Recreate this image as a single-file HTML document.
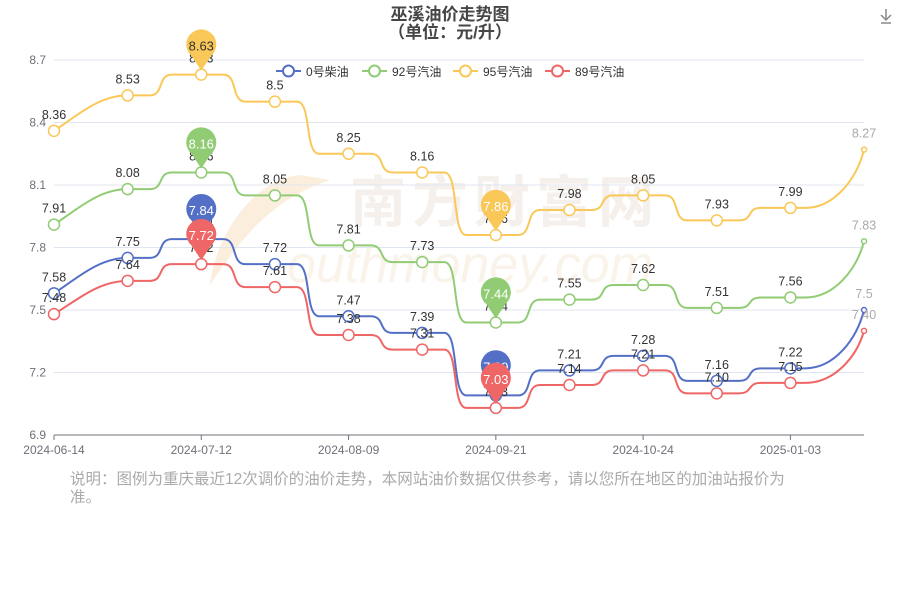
<!DOCTYPE html>
<html><head><meta charset="utf-8"><style>
html,body{margin:0;padding:0;background:#fff;width:900px;height:600px;overflow:hidden}
svg text{font-family:"Liberation Sans","Noto Sans CJK SC",sans-serif}
</style></head><body>
<svg id="c" width="900" height="600" xmlns="http://www.w3.org/2000/svg">
<text x="450" y="20" text-anchor="middle" font-size="17" font-weight="bold" fill="#464646">巫溪油价走势图</text>
<text x="450" y="38" text-anchor="middle" font-size="17" font-weight="bold" fill="#464646">（单位：元/升）</text>
<g fill="none" stroke="#888" stroke-width="1.5"><path d="M886 9v11M881 15l5 5 5-5M881 23h10"/></g>
<path d="M300 175 C250 180 215 240 210 285 C240 240 270 200 330 180 Z" fill="#fbeedd"/>
<text x="505" y="222" text-anchor="middle" font-size="56" font-weight="bold" fill="#f5f0ec" letter-spacing="6">南方财富网</text>
<text x="470" y="282" text-anchor="middle" font-size="52" font-style="italic" fill="#faf3ea">outhmoney.com</text>
<g id="g"></g>
<text x="70" y="484" font-size="15.5" fill="#aaa">说明：图例为重庆最近12次调价的油价走势，本网站油价数据仅供参考，请以您所在地区的加油站报价为</text>
<text x="70" y="502" font-size="15.5" fill="#aaa">准。</text>
</svg>
<script>
const g=document.getElementById('g');let h='';
const Y=v=>435-(v-6.9)/1.8*375;
const X=i=>54+i*73.64;
for(const v of [7.2,7.5,7.8,8.1,8.4,8.7]){h+=`<line x1="54" x2="864" y1="${Y(v)}" y2="${Y(v)}" stroke="#e0e6f1"/>`;h+=`<text x="46" y="${Y(v)+4}" text-anchor="end" font-size="12" fill="#6e7079">${v.toFixed(1)}</text>`}
h+=`<text x="46" y="439" text-anchor="end" font-size="12" fill="#6e7079">6.9</text>`;
h+=`<line x1="54" x2="864" y1="435" y2="435" stroke="#6e7079"/>`;
const dates=['2024-06-14','2024-07-12','2024-08-09','2024-09-21','2024-10-24','2025-01-03'];
dates.forEach((d,k)=>{const x=X(k*2);h+=`<line x1="${x}" x2="${x}" y1="435" y2="440" stroke="#6e7079"/><text x="${x}" y="454" text-anchor="middle" font-size="12" fill="#6e7079">${d}</text>`});
const S=[
['0号柴油','#5470c6',['7.58','7.75','7.84','7.72','7.47','7.39','7.09','7.21','7.28','7.16','7.22','7.5']],
['92号汽油','#91cc75',['7.91','8.08','8.16','8.05','7.81','7.73','7.44','7.55','7.62','7.51','7.56','7.83']],
['95号汽油','#fac858',['8.36','8.53','8.63','8.5','8.25','8.16','7.86','7.98','8.05','7.93','7.99','8.27']],
['89号汽油','#ee6666',['7.48','7.64','7.72','7.61','7.38','7.31','7.03','7.14','7.21','7.10','7.15','7.40']]];
let pins='';
S.forEach(([n,c,d])=>{
 let p=`M${X(0)} ${Y(+d[0])}`;
 for(let i=1;i<d.length;i++){const x0=X(i-1),x1=X(i),y0=Y(+d[i-1]),y1=Y(+d[i]),w=x1-x0;
  if(i==1){p+=` C${x0+w*0.3} ${y0-(y0-y1)*0.4} ${x0+w*0.6} ${y1} ${x1} ${y1}`;continue;}
  if(i==d.length-1){p+=` L${x0+w*0.2} ${y0} C${x0+w*0.6} ${y0} ${x0+w*0.9} ${y0+(y1-y0)*0.5} ${x1} ${y1}`;continue;}
  p+=` L${x0+w*0.3} ${y0} C${x0+w*0.5} ${y0} ${x0+w*0.4} ${y1} ${x0+w*0.6} ${y1} L${x1} ${y1}`;}
 h+=`<path d="${p}" fill="none" stroke="${c}" stroke-width="2"/>`;
 d.forEach((v,i)=>{const x=X(i),y=Y(+v);const last=i==d.length-1;
  h+=`<circle cx="${x}" cy="${y}" r="${last?2.5:5.5}" fill="#fff" stroke="${c}" stroke-width="1.5"/>`;
  h+=`<text x="${x}" y="${y-12}" text-anchor="middle" font-size="12.5" fill="${last?'#aaa':'#333'}">${v}</text>`;});
 for(const i of [2,6]){const x=X(i),y=Y(+d[i]),cy=y-29;
  pins+=`<path d="M${x} ${y-4} L${x-10} ${cy+10} A15 15 0 1 1 ${x+10} ${cy+10} Z" fill="${c}"/><text x="${x}" y="${cy+5}" text-anchor="middle" font-size="13" fill="${i==2&&c=='#fac858'?'#333':'#fff'}">${d[i]}</text>`;}
});
h+=pins;
const lx=[276,362,453,545];
S.forEach(([n,c],k)=>{const x=lx[k];h+=`<line x1="${x}" x2="${x+25}" y1="71" y2="71" stroke="${c}" stroke-width="2"/><circle cx="${x+12.5}" cy="71" r="5.5" fill="#fff" stroke="${c}" stroke-width="2"/><text x="${x+30}" y="76" font-size="12" fill="#333">${n}</text>`});
g.innerHTML=h;
</script>
</body></html>
